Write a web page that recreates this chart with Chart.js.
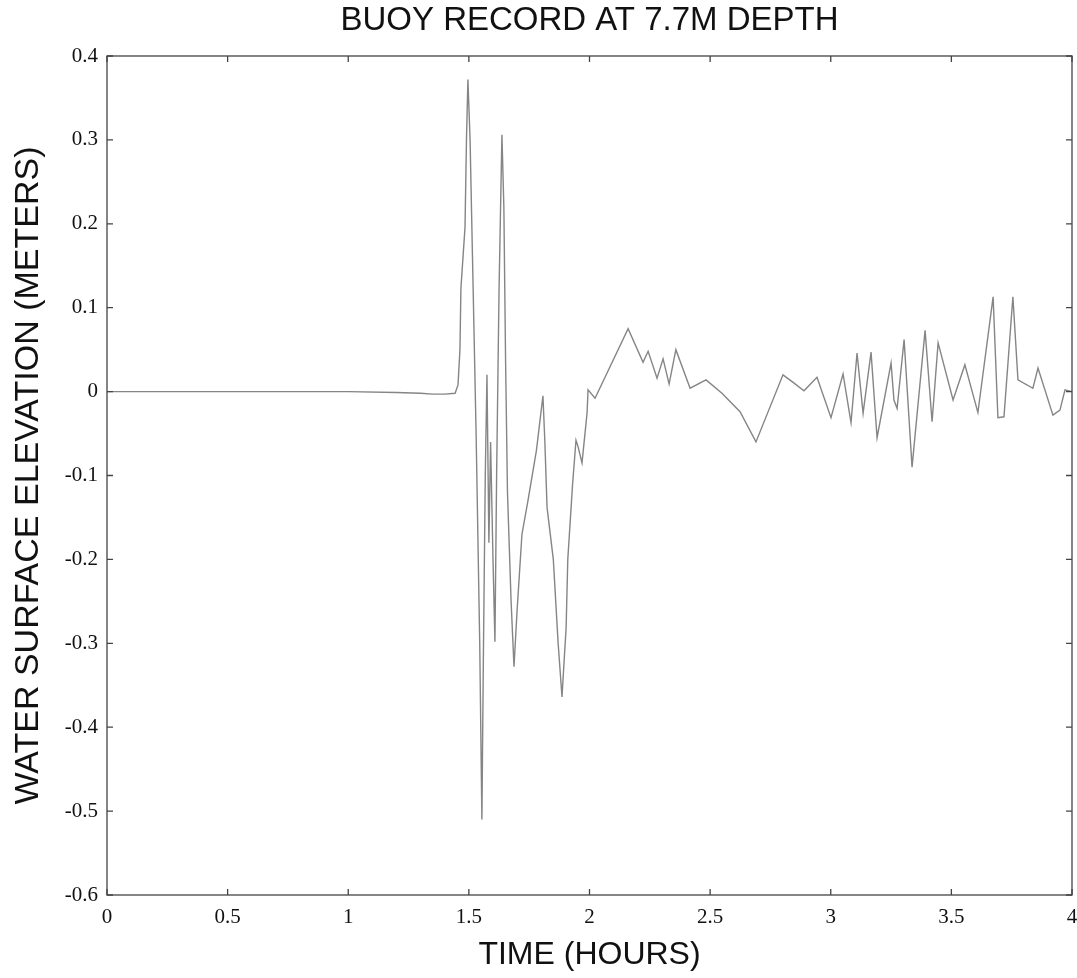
<!DOCTYPE html>
<html>
<head>
<meta charset="utf-8">
<title>Buoy record</title>
<script src="https://cdn.jsdelivr.net/npm/chart.js@4.4.1/dist/chart.umd.min.js"></script>
<style>
  html, body { margin: 0; padding: 0; background: #fff; }
  #wrap { width: 1077px; height: 978px; }
</style>
</head>
<body>
<div id="wrap"><canvas id="buoyChart" width="1077" height="978"></canvas></div>
<script>
// Values (hours, metres)
const timeHours = [
  0, 0.5, 1.0, 1.2, 1.3, 1.35, 1.4, 1.443, 1.455, 1.463, 1.467,
  1.484, 1.49, 1.496, 1.505, 1.515, 1.53, 1.545, 1.554, 1.56, 1.568,
  1.575, 1.583, 1.59, 1.60, 1.608, 1.615, 1.625, 1.637, 1.645, 1.652,
  1.66, 1.675, 1.687, 1.70, 1.72, 1.745, 1.78, 1.807, 1.815, 1.824,
  1.85, 1.87, 1.886, 1.895, 1.903, 1.91, 1.93, 1.944, 1.952, 1.969,
  1.99, 1.994, 2.023, 2.16, 2.222, 2.243, 2.28, 2.305, 2.33, 2.358,
  2.417, 2.483, 2.549, 2.624, 2.69, 2.802, 2.844, 2.889, 2.943, 3.001,
  3.051, 3.084, 3.109, 3.134, 3.167, 3.192, 3.25, 3.262, 3.275, 3.304,
  3.337, 3.391, 3.42, 3.445, 3.507, 3.556, 3.61, 3.673, 3.693, 3.718,
  3.755, 3.776, 3.838, 3.859, 3.921, 3.95, 3.971, 4.0
];
const elevation = [
  0, 0, 0, -0.001, -0.002, -0.003, -0.003, -0.002, 0.008, 0.05, 0.123,
  0.196, 0.30, 0.372, 0.30, 0.16, -0.05, -0.30, -0.51, -0.32, -0.10,
  0.02, -0.18, -0.06, -0.20, -0.298, -0.10, 0.12, 0.306, 0.22, 0.04,
  -0.12, -0.25, -0.328, -0.26, -0.17, -0.13, -0.07, -0.005, -0.06, -0.138,
  -0.20, -0.30, -0.364, -0.32, -0.282, -0.20, -0.11, -0.058, -0.065, -0.085,
  -0.025, 0.002, -0.008, 0.075, 0.035, 0.048, 0.016, 0.039, 0.009, 0.05,
  0.004, 0.014, -0.002, -0.024, -0.06, 0.02, 0.011, 0.001, 0.017, -0.031,
  0.021, -0.037, 0.046, -0.026, 0.047, -0.055, 0.034, -0.01, -0.02, 0.062,
  -0.09, 0.073, -0.036, 0.058, -0.01, 0.032, -0.025, 0.113, -0.031, -0.03,
  0.113, 0.014, 0.004, 0.028, -0.028, -0.022, 0.002, 0
];

const xTicks = [0, 0.5, 1, 1.5, 2, 2.5, 3, 3.5, 4];
const yTicks = [0.4, 0.3, 0.2, 0.1, 0, -0.1, -0.2, -0.3, -0.4, -0.5, -0.6];

const TITLE = 'BUOY RECORD AT 7.7M DEPTH';
const X_LABEL = 'TIME (HOURS)';
const Y_LABEL = 'WATER SURFACE ELEVATION (METERS)';

const points = timeHours.map((t, i) => ({ x: t, y: elevation[i] }));

function fmt(v) {
  const r = Math.round(v * 10) / 10;
  return r === 0 ? '0' : String(r);
}

// MATLAB style box with inward ticks on all four sides
const boxPlugin = {
  id: 'boxTicks',
  afterDraw(chart) {
    const { ctx, chartArea: a, scales } = chart;
    const len = 6;
    ctx.save();
    ctx.strokeStyle = '#444';
    ctx.lineWidth = 1.3;
    ctx.strokeRect(a.left, a.top, a.right - a.left, a.bottom - a.top);
    ctx.beginPath();
    xTicks.forEach(v => {
      const px = scales.x.getPixelForValue(v);
      ctx.moveTo(px, a.bottom); ctx.lineTo(px, a.bottom - len);
      ctx.moveTo(px, a.top); ctx.lineTo(px, a.top + len);
    });
    yTicks.forEach(v => {
      const py = scales.y.getPixelForValue(v);
      ctx.moveTo(a.left, py); ctx.lineTo(a.left + len, py);
      ctx.moveTo(a.right, py); ctx.lineTo(a.right - len, py);
    });
    ctx.stroke();
    ctx.restore();
  }
};

const ctx = document.getElementById('buoyChart').getContext('2d');
new Chart(ctx, {
  type: 'line',
  data: {
    datasets: [{
      data: points,
      borderColor: '#858585',
      borderWidth: 1.4,
      pointRadius: 0,
      tension: 0,
      fill: false
    }]
  },
  options: {
    responsive: false,
    animation: false,
    layout: { padding: { left: 0, right: 5, top: 0, bottom: 0 } },
    plugins: {
      legend: { display: false },
      tooltip: { enabled: false },
      title: {
        display: true,
        fullSize: false,
        text: TITLE,
        color: '#111',
        font: { family: 'Liberation Sans', size: 33, weight: 'normal', lineHeight: 1.2 },
        padding: { top: 1, bottom: 15.4 }
      }
    },
    scales: {
      x: {
        type: 'linear',
        min: 0,
        max: 4,
        afterBuildTicks: s => { s.ticks = xTicks.map(v => ({ value: v })); },
        afterFit: s => { s.height = 83; s.paddingRight = 0; s.paddingLeft = 0; },
        grid: { display: false, drawTicks: false },
        border: { display: false },
        ticks: {
          padding: 10,
          color: '#111',
          font: { family: 'Liberation Serif', size: 21 },
          callback: v => fmt(v),
          maxRotation: 0
        },
        title: {
          display: true,
          text: X_LABEL,
          color: '#111',
          font: { family: 'Liberation Sans', size: 32, weight: 'normal', lineHeight: 1.2 },
          padding: { top: 0, bottom: 4 }
        }
      },
      y: {
        type: 'linear',
        min: -0.6,
        max: 0.4,
        afterBuildTicks: s => { s.ticks = yTicks.map(v => ({ value: v })); },
        afterFit: s => { s.width = 107; s.paddingTop = 0; s.paddingBottom = 0; },
        grid: { display: false, drawTicks: false },
        border: { display: false },
        ticks: {
          padding: 9,
          color: '#111',
          font: { family: 'Liberation Serif', size: 21 },
          callback: v => fmt(v)
        },
        title: {
          display: true,
          text: Y_LABEL,
          color: '#111',
          font: { family: 'Liberation Sans', size: 34, weight: 'normal', lineHeight: 1.2 },
          padding: { top: 8, bottom: 0 }
        }
      }
    }
  },
  plugins: [boxPlugin]
});
</script>
</body>
</html>
